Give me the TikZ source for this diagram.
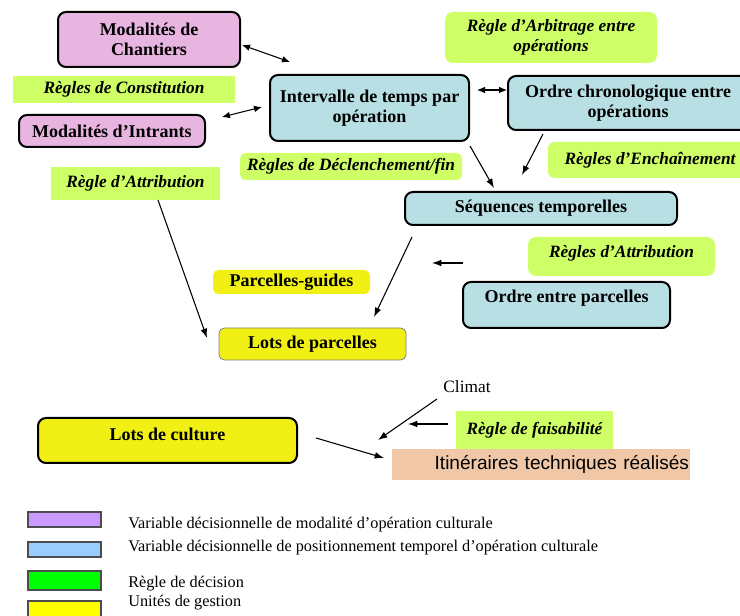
\documentclass[tikz,border=0pt]{standalone}
\usepackage{fontspec}
\setmainfont{Liberation Serif}
\newfontfamily\arialfont{Liberation Sans}
\usetikzlibrary{positioning,arrows.meta}

\definecolor{modpink}{RGB}{232,180,224}
\definecolor{tempblue}{RGB}{184,224,228}
\definecolor{reglegreen}{RGB}{206,255,102}
\definecolor{unityellow}{RGB}{240,240,20}
\definecolor{itinsalmon}{RGB}{240,200,168}
\definecolor{legpurple}{RGB}{204,153,255}
\definecolor{legblue}{RGB}{153,204,255}
\definecolor{leggreen}{RGB}{0,255,0}
\definecolor{legyellow}{RGB}{255,255,0}

\begin{document}
\begin{tikzpicture}[
		x=0.75pt, y=-0.75pt,
		every node/.style={inner sep=0pt, align=center},
		sz/.style 2 args={minimum width=#1*0.75pt, minimum height=#2*0.75pt},
		boxtxt/.style={font=\fontsize{13.5}{15}\selectfont\bfseries},
		modbox/.style={boxtxt, draw=black, line width=1.5pt, rounded corners=6pt, fill=modpink},
		tempbox/.style={boxtxt, draw=black, line width=1.5pt, rounded corners=6pt, fill=tempblue},
		unitbox/.style={boxtxt, rounded corners=4pt, fill=unityellow},
		regle/.style={font=\fontsize{13}{15}\selectfont\bfseries\itshape, fill=reglegreen},
		link/.style={line width=0.8pt, black},
		tip/.style={-{Latex[length=7pt,width=5pt]}},
		tips/.style={{Latex[length=6pt,width=5pt]}-{Latex[length=6pt,width=5pt]}},
	]
	\useasboundingbox (0,0) rectangle (740,616);

	% variables de modalite
	\node[modbox, sz={182}{55}] (chant) at (149,39.5) {Modalités de\\Chantiers};
	\node[modbox, sz={186}{32}] (intrants) at (112,131) {Modalités d’Intrants};

	% variables temporelles
	\node[tempbox, sz={199}{66}] (interv) at (369.5,108) {Intervalle de temps par\\opération};
	\node[tempbox, sz={240}{54}] (chrono) at (628,103) {Ordre chronologique entre\\opérations};
	\node[tempbox, sz={272}{33}] (seq) at (541,208.5) {Séquences temporelles};
	\node[tempbox, sz={207}{46}, text depth=13pt] (ordpar) at (566.5,305) {Ordre entre parcelles};

	% regles
	\node[regle, sz={222}{27}] (constit) at (124,89.5) {Règles de Constitution};
	\node[regle, sz={169}{33}] (attrib) at (135.5,183.5) {Règle d’Attribution};
	\node[regle, sz={212}{51}, rounded corners=6pt] (arbit) at (551,37.5) {Règle d’Arbitrage entre\\opérations};
	\node[regle, sz={222}{27}, rounded corners=4pt] (declench) at (351,166.5) {Règles de Déclenchement/fin};
	\node[regle, sz={204}{36}, rounded corners=5pt] (enchain) at (650,160) {Règles d’Enchaînement};
	\node[regle, sz={187}{39}, rounded corners=6pt, text depth=8pt] (attribp) at (621.5,256.5) {Règles d’Attribution};
	\node[regle, sz={157}{38}] (faisab) at (534.5,430) {Règle de faisabilité};

	% unites de gestion
	\node[unitbox, sz={157}{24}] (guides) at (291.5,282) {Parcelles-guides};
	\node[unitbox, sz={187}{32}, draw=gray, line width=0.6pt] (lotspar) at (312.5,344) {Lots de parcelles};
	\node[unitbox, sz={259}{45}, draw=black, line width=1.5pt, rounded corners=6pt, text depth=9pt] (lotscult) at (167.5,440.5) {Lots de culture};

	\node[font=\fontsize{13}{15}\selectfont] (climat) at (467,387) {Climat};
	\node[sz={298}{31}, text width=296*0.75pt, align=right, fill=itinsalmon, font=\arialfont\fontsize{14.3}{17}\selectfont] (itin) at (541,464.5) {Itinéraires techniques réalisés};

	% bouts de fleches
	\coordinate (c1) at (242,45);   \coordinate (d1) at (290,62);
	\coordinate (c2) at (222,117);  \coordinate (d2) at (262,107);
	\coordinate (c3) at (477,90);   \coordinate (d3) at (507,90);
	\coordinate (c4) at (470,146);  \coordinate (d4) at (494,188);
	\coordinate (c5) at (543,134);  \coordinate (d5) at (522,175);
	\coordinate (c6) at (158,200);  \coordinate (d6) at (207,338);
	\coordinate (c7) at (412,237);  \coordinate (d7) at (374,317);
	\coordinate (c8) at (463,263);  \coordinate (d8) at (432,263);
	\coordinate (c9) at (316,438);  \coordinate (d9) at (384,458);
	\coordinate (c10) at (437,399); \coordinate (d10) at (378,440);
	\coordinate (c11) at (448,424); \coordinate (d11) at (408,424);

	\foreach \a in {1,2,3} {
			\draw [link, tips] (c\a) -- (d\a);
		}
	\foreach \a in {4,...,11} {
			\draw [link, tip] (c\a) -- (d\a);
		}

	% legende
	\foreach \c/\ys/\h/\yt/\t [count=\i] in {
			legpurple/519.5/15/525/{Variable décisionnelle de modalité d’opération culturale},
			legblue/549.5/15/548/{Variable décisionnelle de positionnement temporel d’opération culturale},
			leggreen/580.5/19/584/{Règle de décision},
			legyellow/610.5/19/603/{Unités de gestion}} {
			\node[sz={73}{\h}, fill=\c, draw=black!70, line width=0.8pt] (sw\i) at (64.5,\ys) {};
			\node[anchor=west, font=\fontsize{12.2}{14}\selectfont] (lg\i) at (128,\yt) {\t};
		}
\end{tikzpicture}
\end{document}
